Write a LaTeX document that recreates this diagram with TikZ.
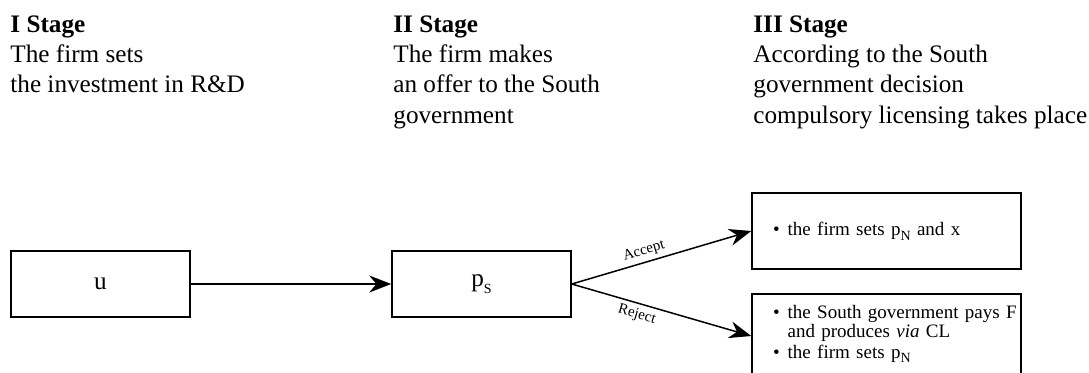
\documentclass[tikz,border=0pt]{standalone}
\usepackage{fontspec}
\setmainfont{Liberation Serif}
\usetikzlibrary{positioning, calc, arrows.meta}
\newcommand{\lowsub}[1]{\raisebox{-0.55ex}{\scriptsize #1}}

\begin{document}
\begin{tikzpicture}[x=0.5pt, y=-0.5pt,
	stage/.style={anchor=north west, inner sep=0pt, align=left,
		font=\fontsize{12.6}{15.2}\selectfont},
	box/.style={draw, line width=0.75pt, minimum width=89.5pt, minimum height=33pt,
		font=\fontsize{12.6}{15.2}\selectfont},
	outcome/.style={draw, line width=0.75pt, inner xsep=0pt, text width=134.5pt, align=left,
		font=\fontsize{9.5}{10.5}\selectfont},
	arr/.style={line width=0.75pt, -{Stealth[length=11pt, width=8.5pt]}},
	lbl/.style={font=\fontsize{7.5}{8}\selectfont, sloped, inner sep=2pt}]
\clip (0, 0) rectangle (1089, 372);
% stage headings
\node[stage] (s1) at (10, 15) {\textbf{I Stage}\\The firm sets\\the investment in R\&D};
\node[stage] (s2) at (393, 15) {\textbf{II Stage}\\The firm makes\\an offer to the South\\government};
\node[stage] (s3) at (753, 15) {\textbf{III Stage}\\According to the South\\government decision\\compulsory licensing takes place};
% game tree
\node[box] (u) at (100.5, 284) {u};
\node[box] (ps) at (481.5, 284) {p\lowsub{S}};
\node[outcome, minimum height=38pt] (acc) at (886.5, 231)
	{\hspace{10.5pt}\textbullet\hspace{4pt}the firm sets p\lowsub{N} and x};
\node[outcome, inner ysep=3pt, text height=9pt, text depth=27pt] (rej) at (886.5, 336)
	{\begin{tabular}[t]{@{\hspace{10.5pt}}l@{\hspace{4pt}}l@{}}
	\textbullet & the South government pays F\\[-1pt]
	& and produces \emph{via} CL\\
	\textbullet & the firm sets p\lowsub{N}
	\end{tabular}};
\draw[arr] (u) -- (ps);
\draw[arr] (ps.east) -- node[lbl, above, pos=0.42] {Accept} (acc.west);
\draw[arr] (ps.east) -- node[lbl, below, pos=0.38] {Reject} (rej.west);
\end{tikzpicture}
\end{document}
